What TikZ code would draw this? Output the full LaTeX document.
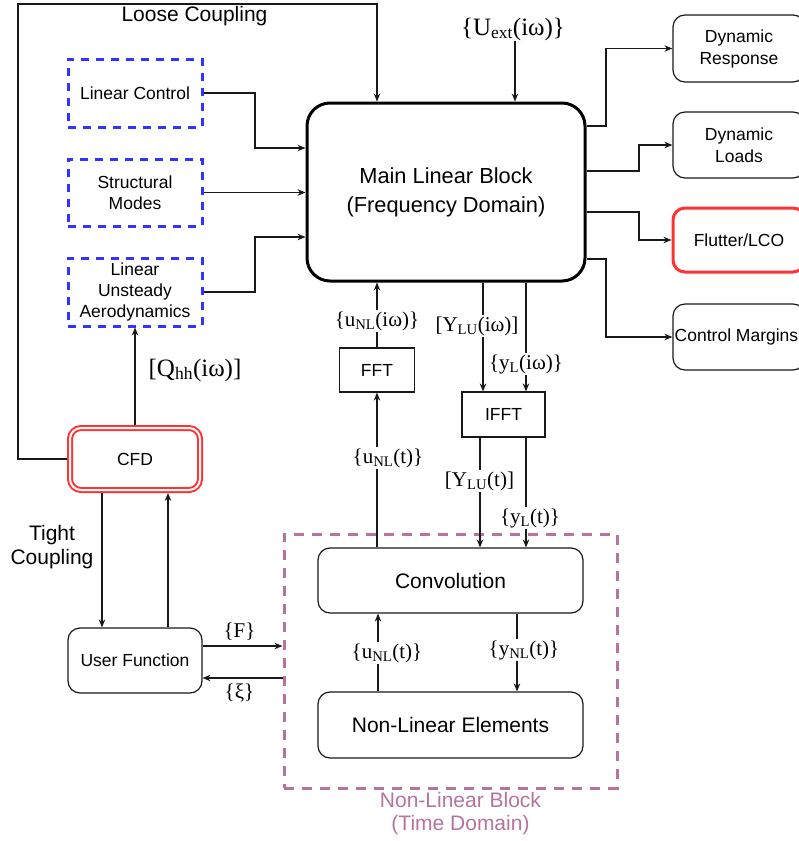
\documentclass[tikz,border=0pt]{standalone}
\usepackage{fontspec}
\setmainfont{Liberation Sans}
\newfontfamily\serlbl{Liberation Serif}
\usetikzlibrary{arrows.meta}
\definecolor{dblue}{RGB}{51,51,255}
\definecolor{dred}{RGB}{255,51,51}
\definecolor{mauve}{RGB}{181,115,157}
\definecolor{edge}{RGB}{25,25,25}
\tikzset{
 box/.style={draw=edge, line width=1.2pt, rounded corners=12pt, inner sep=0pt, align=center, font=\fontsize{17.5}{22}\selectfont},
 sqbox/.style={draw=edge, line width=1.2pt, inner sep=0pt, align=center, font=\fontsize{17.5}{22}\selectfont},
 bluebox/.style={draw=dblue, line width=3pt, dash pattern=on 8pt off 7pt, inner sep=0pt, align=center, font=\fontsize{17.5}{21}\selectfont, minimum width=134pt, minimum height=68pt},
 bigtext/.style={font=\fontsize{21}{24}\selectfont, align=center, inner sep=0pt},
 lbl/.style={font=\serlbl\fontsize{21}{24}\selectfont, fill=white, inner sep=1.5pt},
 biglbl/.style={font=\serlbl\fontsize{25}{28}\selectfont, inner sep=0pt},
 arr/.style={draw=edge, line width=1.1pt, -{Stealth[length=8pt,width=6.5pt]}},
 ln/.style={draw=edge, line width=1.1pt},
}
\begin{document}
\begin{tikzpicture}[x=1pt,y=-1pt]
\useasboundingbox (0,0) rectangle (799,841);
% main block
\node[draw=black, line width=3pt, rounded corners=23pt, minimum width=278pt, minimum height=178pt, inner sep=0pt, align=center, font=\fontsize{21.8}{29}\selectfont] (main) at (446,192) {Main Linear Block\\(Frequency Domain)};
% right output boxes
\node[box, minimum width=132pt, minimum height=67pt] (dr) at (739,48.5) {Dynamic\\Response};
\node[box, minimum width=132pt, minimum height=66pt] (dl) at (739,145) {Dynamic\\Loads};
\node[box, draw=dred, line width=3pt, minimum width=132pt, minimum height=64pt] (fl) at (739,240) {Flutter/LCO};
\node[box, minimum width=132pt, minimum height=66pt] (cm) at (739,337) {};
\node[font=\fontsize{17.5}{22}\selectfont, inner sep=0pt] (cmt) at (736.5,337) {Control Margins};
% left linear boxes
\node[bluebox] (lc) at (135,93) {Linear Control};
\node[bluebox, minimum height=67pt] (sm) at (135,192.5) {Structural\\Modes};
\node[bluebox] (lua) at (135,292) {Linear\\Unsteady\\Aerodynamics};
% CFD and user function
\node[draw=dred, line width=2pt, double=white, double distance=2pt, rounded corners=11pt, minimum width=130pt, minimum height=62pt, inner sep=0pt, outer sep=3pt, font=\fontsize{17.5}{22}\selectfont] (cfd) at (135,459) {CFD};
\node[box, minimum width=134pt, minimum height=65pt] (uf) at (135,660.5) {User Function};
% FFT / IFFT
\node[sqbox, minimum width=75pt, minimum height=44pt] (fft) at (377,370) {FFT};
\node[sqbox, minimum width=83pt, minimum height=45pt] (ifft) at (503.5,414.5) {IFFT};
% non-linear block
\node[draw=mauve, line width=3pt, dash pattern=on 10pt off 8pt, minimum width=333pt, minimum height=254pt, inner sep=0pt] (nlb) at (450.5,661) {};
\node[box, font=\fontsize{21}{24}\selectfont, minimum width=265pt, minimum height=65pt] (conv) at (450.5,580.5) {Convolution};
\node[box, font=\fontsize{21}{24}\selectfont, minimum width=265pt, minimum height=66pt] (nle) at (450.5,725) {Non-Linear Elements};
\node[bigtext, text=mauve, font=\fontsize{21}{23}\selectfont] (nlbl) at (460.5,813.5) {Non-Linear Block\\(Time Domain)};
% free texts
\node[bigtext] (loose) at (194.5,16) {Loose Coupling};
\node[bigtext] (tight) at (52,547) {Tight\\Coupling};
\node[biglbl] (uext) at (513,29) {\{U\textsubscript{ext}(iω)\}};
\node[biglbl] (qhh) at (195,370) {[Q\textsubscript{hh}(iω)]};
% connectors: outputs
\draw[arr] (main.east |- 0,126) -- (606,126) |- (dr.west);
\draw[arr] (main.east |- 0,171) -- (639,171) |- (dl.west);
\draw[arr] (main.east |- 0,212) -- (639,212) |- (fl.west);
\draw[arr] (main.east |- 0,259) -- (606,259) |- (cm.west);
% connectors: linear inputs
\draw[arr] (lc.east) -- (255,93) |- (main.west |- 0,148);
\draw[arr] (sm.east) -- (main.west |- sm.east);
\draw[arr] (lua.east) -- (255,292) |- (main.west |- 0,237);
\draw[arr] (uext.south -| 515,0) -- (main.north -| 515,0);
% loose coupling
\draw[arr] (cfd.west) -| (18,4) -| (main.north -| 377,0);
\draw[arr] (cfd.north) -- (lua.south);
% tight coupling
\draw[arr] (cfd.south -| 102,0) -- (uf.north -| 102,0);
\draw[arr] (uf.north -| 168,0) -- (cfd.south -| 168,0);
\draw[arr] (uf.east |- 0,646) -- (nlb.west |- 0,646);
\draw[arr] (nlb.west |- 0,678) -- (uf.east |- 0,678);
\node[lbl, fill=none] (flbl) at (239.5,632) {\{F\}};
\node[lbl, fill=none] (xlbl) at (239.5,693) {\{ξ\}};
% FFT / IFFT chain
\draw[arr] (fft.north) -- (main.south -| fft.north);
\draw[arr] (conv.north -| fft.south) -- (fft.south);
\draw[arr] (main.south -| 483,0) -- (ifft.north -| 483,0);
\draw[arr] (main.south -| 526,0) -- (ifft.north -| 526,0);
\draw[arr] (ifft.south -| 480,0) -- (conv.north -| 480,0);
\draw[arr] (ifft.south -| 526,0) -- (conv.north -| 526,0);
\draw[arr] (nle.north -| 378,0) -- (conv.south -| 378,0);
\draw[arr] (conv.south -| 517,0) -- (nle.north -| 517,0);
% edge labels
\node[lbl] (l1) at (377,321) {\{u\textsubscript{NL}(iω)\}};
\node[lbl] (l2) at (388,458) {\{u\textsubscript{NL}(t)\}};
\node[lbl] (l3) at (477,326) {[Y\textsubscript{LU}(iω)]};
\node[lbl] (l4) at (526,364) {\{y\textsubscript{L}(iω)\}};
\node[lbl] (l5) at (479.5,481) {[Y\textsubscript{LU}(t)]};
\node[lbl] (l6) at (530,518) {\{y\textsubscript{L}(t)\}};
\node[lbl] (l7) at (387,653) {\{u\textsubscript{NL}(t)\}};
\node[lbl] (l8) at (524,650) {\{y\textsubscript{NL}(t)\}};
\end{tikzpicture}
\end{document}
